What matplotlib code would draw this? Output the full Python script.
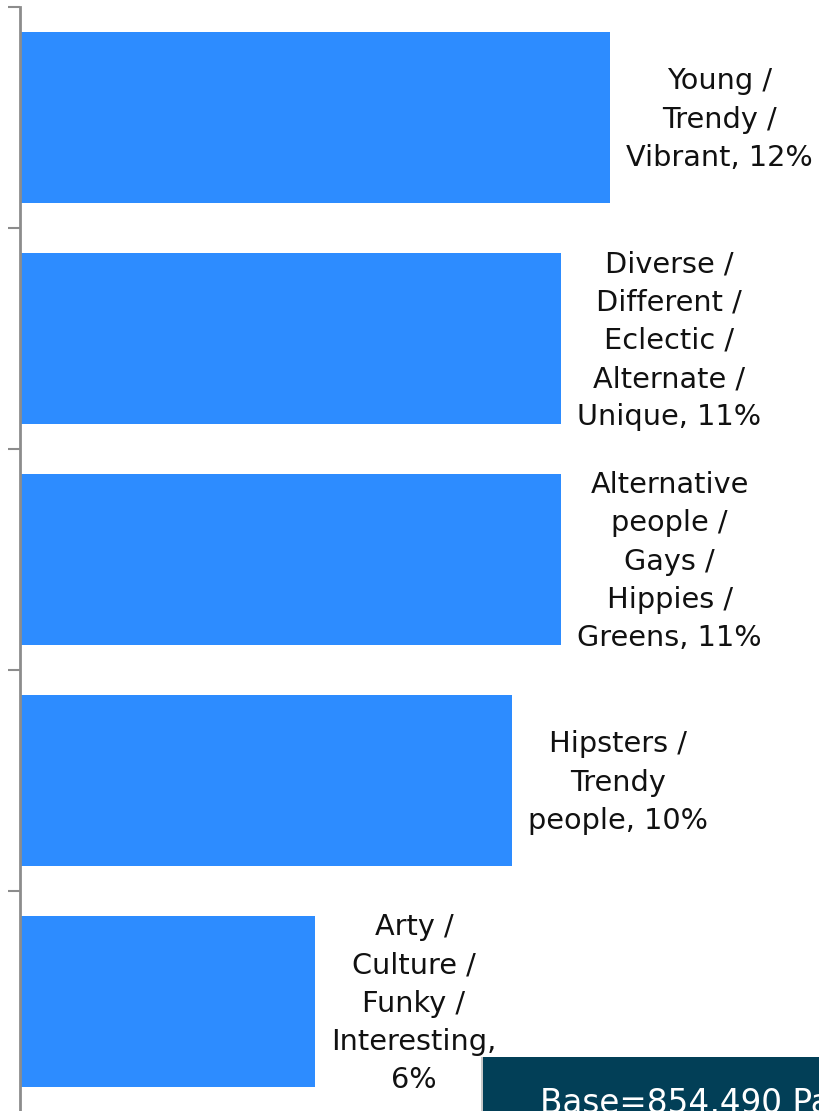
import matplotlib.pyplot as plt
from matplotlib.patches import Rectangle

# categories top to bottom, values in percent
categories = [
    "Young /\nTrendy /\nVibrant",
    "Diverse /\nDifferent /\nEclectic /\nAlternate /\nUnique",
    "Alternative\npeople /\nGays /\nHippies /\nGreens",
    "Hipsters /\nTrendy\npeople",
    "Arty /\nCulture /\nFunky /\nInteresting,\n",
]
values = [12, 11, 11, 10, 6]
base_text = "Base=854,490 Pa"

fig = plt.figure(figsize=(8.2, 11.11), dpi=100)
ax = fig.add_axes([20 / 820, -1 / 1111, 1 - 20 / 820, 1105 / 1111])

pos = list(range(len(values)))
ax.barh(pos, values, height=0.77, color="#2D8CFF", zorder=2)

ax.set_ylim(len(values) - 0.5, -0.5)
ax.set_xlim(0, 800 / 49.2)

for p, v, c in zip(pos, values, categories):
    lab = f"{c}{v}%" if c.endswith("\n") else f"{c}, {v}%"
    ax.text(v + 16 / 49.2, p + 0.01, lab, ha="left", va="center",
            multialignment="center", fontsize=20.7, color="#111111",
            linespacing=1.47, zorder=3)

ax.set_yticks([p - 0.5 for p in pos])
ax.set_yticklabels([])
ax.set_xticks([])
for s in ["top", "right", "bottom"]:
    ax.spines[s].set_visible(False)
ax.spines["left"].set_color("#8c8c8c")
ax.spines["left"].set_linewidth(2)
ax.tick_params(axis="y", length=9, width=1.5, color="#8c8c8c")

# dark base note box, cut by the figure edge as in the source
fig.patches.append(Rectangle((481 / 820, 0), 1, 54 / 1111, transform=fig.transFigure,
                             facecolor="#c8c8c8", edgecolor="none", zorder=4))
fig.patches.append(Rectangle((483 / 820, 0), 1, 54 / 1111, transform=fig.transFigure,
                             facecolor="#023F57", edgecolor="none", zorder=5))
fig.text(540 / 820, -2 / 1111, base_text, color="white", fontsize=23.5,
         ha="left", va="baseline", zorder=6)

fig.savefig("out.png", dpi=100)
